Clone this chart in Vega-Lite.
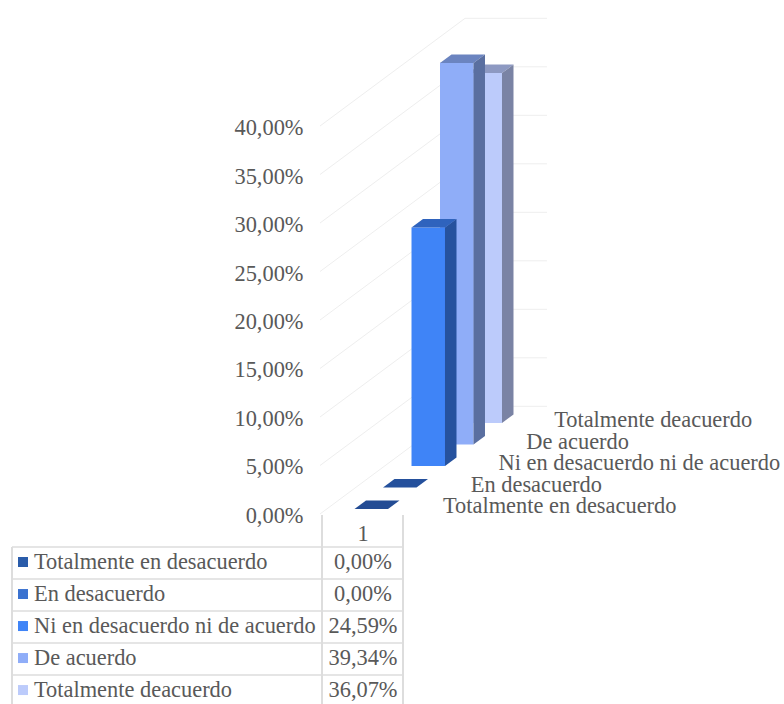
{
  "$schema": "https://vega.github.io/schema/vega-lite/v6.json",
  "width": 784,
  "height": 704,
  "padding": 0,
  "autosize": {"type": "none"},
  "background": "white",
  "config": {"view": {"stroke": null}, "text": {"font": "Liberation Serif", "fontSize": 22.4, "fill": "#595959"}},
  "datasets": {
    "encuesta": [
      {"serie": "Totalmente en desacuerdo", "valor": 0, "orden": 0},
      {"serie": "En desacuerdo", "valor": 0, "orden": 1},
      {"serie": "Ni en desacuerdo ni de acuerdo", "valor": 24.59, "orden": 2},
      {"serie": "De acuerdo", "valor": 39.34, "orden": 3},
      {"serie": "Totalmente deacuerdo", "valor": 36.07, "orden": 4}
    ],
    "marcas": [{"pct": 0}, {"pct": 5}, {"pct": 10}, {"pct": 15}, {"pct": 20}, {"pct": 25}, {"pct": 30}, {"pct": 35}, {"pct": 40}]
  },
  "resolve": {"scale": {"x": "independent", "y": "independent", "color": "independent"}},
  "layer": [
    {
      "resolve": {"scale": {"color": "independent"}, "axis": {"y": "independent"}},
      "layer": [
        {
          "data": {"name": "marcas"},
          "transform": [
            {"calculate": "datum.pct + 11.1", "as": "fondo"},
            {"calculate": "-1.21", "as": "xFrente"},
            {"calculate": "3.877", "as": "xRincon"}
          ],
          "mark": {"type": "rule", "stroke": "#eeeeee", "strokeWidth": 1},
          "encoding": {
            "x": {"field": "xFrente", "type": "quantitative", "axis": null, "scale": {"domain": [-12.439, 15.07], "range": [0, 784], "nice": false, "zero": false}},
            "x2": {"field": "xRincon"},
            "y": {
              "field": "pct", "type": "quantitative", "title": null,
              "scale": {"domain": [-19.588, 52.99], "range": [704, 0], "nice": false, "zero": false},
              "axis": {
                "values": [0, 5, 10, 15, 20, 25, 30, 35, 40],
                "offset": -303, "domain": false, "ticks": false, "grid": false, "labelPadding": 0, "labelOffset": 1.5,
                "labelFont": "Liberation Serif", "labelFontSize": 22.4, "labelColor": "#595959", "labelFontWeight": "normal",
                "labelExpr": "replace(format(datum.value, '.2f'), '.', ',') + '%'"
              }
            },
            "y2": {"field": "fondo"}
          }
        },
        {
          "data": {"name": "marcas"},
          "transform": [
            {"calculate": "datum.pct + 11.1", "as": "fondo"},
            {"calculate": "3.877", "as": "xRincon"},
            {"calculate": "6.754", "as": "xPared"}
          ],
          "mark": {"type": "rule", "stroke": "#eeeeee", "strokeWidth": 1},
          "encoding": {
            "x": {"field": "xRincon", "type": "quantitative", "axis": null},
            "x2": {"field": "xPared"},
            "y": {"field": "fondo", "type": "quantitative", "axis": null}
          }
        },
        {
          "data": {"name": "encuesta"},
          "transform": [
            {"filter": "datum.orden == 4"},
            {"calculate": "0.52 + 2.216 * datum.orden + datum.valor", "as": "cima"},
            {"calculate": "0", "as": "p0"},
            {"calculate": "1", "as": "p1"},
            {"fold": ["p0", "p1"], "as": ["k", "t"]},
            {"calculate": "datum.cima + 0.876 * datum.t", "as": "yCara"},
            {"calculate": "datum.orden + 0.4035 * datum.t", "as": "x1"},
            {"calculate": "datum.x1 + 1.175", "as": "x2"}
          ],
          "mark": {"type": "area", "orient": "horizontal"},
          "encoding": {
            "y": {"field": "yCara", "type": "quantitative", "axis": null, "stack": null},
            "x": {"field": "x1", "type": "quantitative", "axis": null, "stack": null},
            "x2": {"field": "x2"},
            "detail": {"field": "serie"},
            "color": {"value": "#8d99c2"}
          }
        },
        {
          "data": {"name": "encuesta"},
          "transform": [
            {"calculate": "0.52 + 2.216 * datum.orden", "as": "base"},
            {"calculate": "datum.base + datum.valor", "as": "cima"},
            {"calculate": "datum.orden + 1.175", "as": "xDer"}
          ],
          "mark": {"type": "rect"},
          "encoding": {
            "x": {"field": "orden", "type": "quantitative", "axis": null},
            "x2": {"field": "xDer"},
            "y": {"field": "base", "type": "quantitative", "axis": null},
            "y2": {"field": "cima"},
            "order": {"field": "orden", "sort": "descending"},
            "color": {
              "field": "serie", "type": "nominal", "legend": null,
              "scale": {
                "domain": ["Totalmente en desacuerdo", "En desacuerdo", "Ni en desacuerdo ni de acuerdo", "De acuerdo", "Totalmente deacuerdo"],
                "range": ["#2a5caa", "#3a72d0", "#3f84f7", "#8fadf8", "#bccbfb"]
              }
            }
          }
        },
        {
          "data": {"name": "encuesta"},
          "transform": [
            {"filter": "datum.orden < 4"},
            {"calculate": "0.52 + 2.216 * datum.orden + datum.valor", "as": "cima"},
            {"calculate": "0", "as": "p0"},
            {"calculate": "1", "as": "p1"},
            {"fold": ["p0", "p1"], "as": ["k", "t"]},
            {"calculate": "datum.cima + 0.876 * datum.t", "as": "yCara"},
            {"calculate": "datum.orden + 0.4035 * datum.t", "as": "x1"},
            {"calculate": "datum.x1 + 1.175", "as": "x2"}
          ],
          "mark": {"type": "area", "orient": "horizontal"},
          "encoding": {
            "y": {"field": "yCara", "type": "quantitative", "axis": null, "stack": null},
            "x": {"field": "x1", "type": "quantitative", "axis": null, "stack": null},
            "x2": {"field": "x2"},
            "detail": {"field": "serie"},
            "color": {
              "field": "serie", "type": "nominal", "legend": null,
              "scale": {
                "domain": ["Totalmente en desacuerdo", "En desacuerdo", "Ni en desacuerdo ni de acuerdo", "De acuerdo"],
                "range": ["#234c94", "#24509c", "#2f63bd", "#6b84c0"]
              }
            }
          }
        },
        {
          "data": {"name": "encuesta"},
          "transform": [
            {"filter": "datum.valor > 0"},
            {"calculate": "0.52 + 2.216 * datum.orden", "as": "base"},
            {"calculate": "0", "as": "p0"},
            {"calculate": "1", "as": "p1"},
            {"fold": ["p0", "p1"], "as": ["k", "t"]},
            {"calculate": "datum.base + 0.876 * datum.t", "as": "yBajo"},
            {"calculate": "datum.yBajo + datum.valor", "as": "yAlto"},
            {"calculate": "datum.orden + 1.175 + 0.4035 * datum.t", "as": "xCara"}
          ],
          "mark": {"type": "area", "orient": "vertical"},
          "encoding": {
            "x": {"field": "xCara", "type": "quantitative", "axis": null},
            "y": {"field": "yBajo", "type": "quantitative", "axis": null, "stack": null},
            "y2": {"field": "yAlto"},
            "detail": {"field": "serie"},
            "color": {
              "field": "serie", "type": "nominal", "legend": null,
              "scale": {
                "domain": ["Ni en desacuerdo ni de acuerdo", "De acuerdo", "Totalmente deacuerdo"],
                "range": ["#26529e", "#5a6fa0", "#7a83a4"]
              }
            }
          }
        },
        {
          "data": {"name": "encuesta"},
          "transform": [
            {"calculate": "0.825 + 2.216 * datum.orden", "as": "yRotulo"},
            {"calculate": "3.105 + 0.975 * datum.orden", "as": "xRotulo"}
          ],
          "mark": {"type": "text", "align": "left", "baseline": "middle"},
          "encoding": {
            "x": {"field": "xRotulo", "type": "quantitative", "axis": null},
            "y": {"field": "yRotulo", "type": "quantitative", "axis": null},
            "text": {"field": "serie"}
          }
        }
      ]
    },
    {
      "data": {"name": "encuesta"},
      "layer": [
        {
          "mark": {"type": "rule", "stroke": "#dcdcdc", "strokeWidth": 1.5},
          "encoding": {
            "x": {"datum": 12, "type": "quantitative", "axis": null, "scale": {"domain": [0, 784], "range": [0, 784], "nice": false, "zero": false}},
            "x2": {"datum": 403},
            "y": {"field": "orden", "type": "quantitative", "axis": null, "scale": {"domain": [-17.09, 4.906], "range": [0, 704], "nice": false, "zero": false}}
          }
        },
        {
          "mark": {"type": "rule", "stroke": "#dcdcdc", "strokeWidth": 1.5},
          "encoding": {
            "x": {"datum": 12, "type": "quantitative", "axis": null},
            "y": {"datum": 0, "type": "quantitative", "axis": null},
            "y2": {"datum": 5}
          }
        },
        {
          "mark": {"type": "rule", "stroke": "#dcdcdc", "strokeWidth": 1.5},
          "encoding": {
            "x": {"datum": 322, "type": "quantitative", "axis": null},
            "y": {"datum": -1, "type": "quantitative", "axis": null},
            "y2": {"datum": 5}
          }
        },
        {
          "mark": {"type": "rule", "stroke": "#dcdcdc", "strokeWidth": 1.5},
          "encoding": {
            "x": {"datum": 403, "type": "quantitative", "axis": null},
            "y": {"datum": -1, "type": "quantitative", "axis": null},
            "y2": {"datum": 5}
          }
        },
        {
          "transform": [{"filter": "datum.orden == 0"}],
          "mark": {"type": "text", "align": "center", "baseline": "middle", "text": "1"},
          "encoding": {
            "x": {"datum": 363, "type": "quantitative", "axis": null},
            "y": {"datum": -0.4, "type": "quantitative", "axis": null}
          }
        },
        {
          "transform": [{"calculate": "datum.orden + 0.47", "as": "fila"}],
          "mark": {"type": "square", "size": 100, "opacity": 1},
          "encoding": {
            "x": {"datum": 23, "type": "quantitative", "axis": null},
            "y": {"field": "fila", "type": "quantitative", "axis": null},
            "color": {
              "field": "serie", "type": "nominal", "legend": null,
              "scale": {
                "domain": ["Totalmente en desacuerdo", "En desacuerdo", "Ni en desacuerdo ni de acuerdo", "De acuerdo", "Totalmente deacuerdo"],
                "range": ["#2a5caa", "#3a72d0", "#3f84f7", "#8fadf8", "#bccbfb"]
              }
            }
          }
        },
        {
          "transform": [{"calculate": "datum.orden + 0.47", "as": "fila"}],
          "mark": {"type": "text", "align": "left", "baseline": "middle"},
          "encoding": {
            "x": {"datum": 34, "type": "quantitative", "axis": null},
            "y": {"field": "fila", "type": "quantitative", "axis": null},
            "text": {"field": "serie"}
          }
        },
        {
          "transform": [
            {"calculate": "datum.orden + 0.47", "as": "fila"},
            {"calculate": "replace(format(datum.valor, '.2f'), '.', ',') + '%'", "as": "rotulo"}
          ],
          "mark": {"type": "text", "align": "center", "baseline": "middle"},
          "encoding": {
            "x": {"datum": 363, "type": "quantitative", "axis": null},
            "y": {"field": "fila", "type": "quantitative", "axis": null},
            "text": {"field": "rotulo"}
          }
        }
      ]
    }
  ]
}
